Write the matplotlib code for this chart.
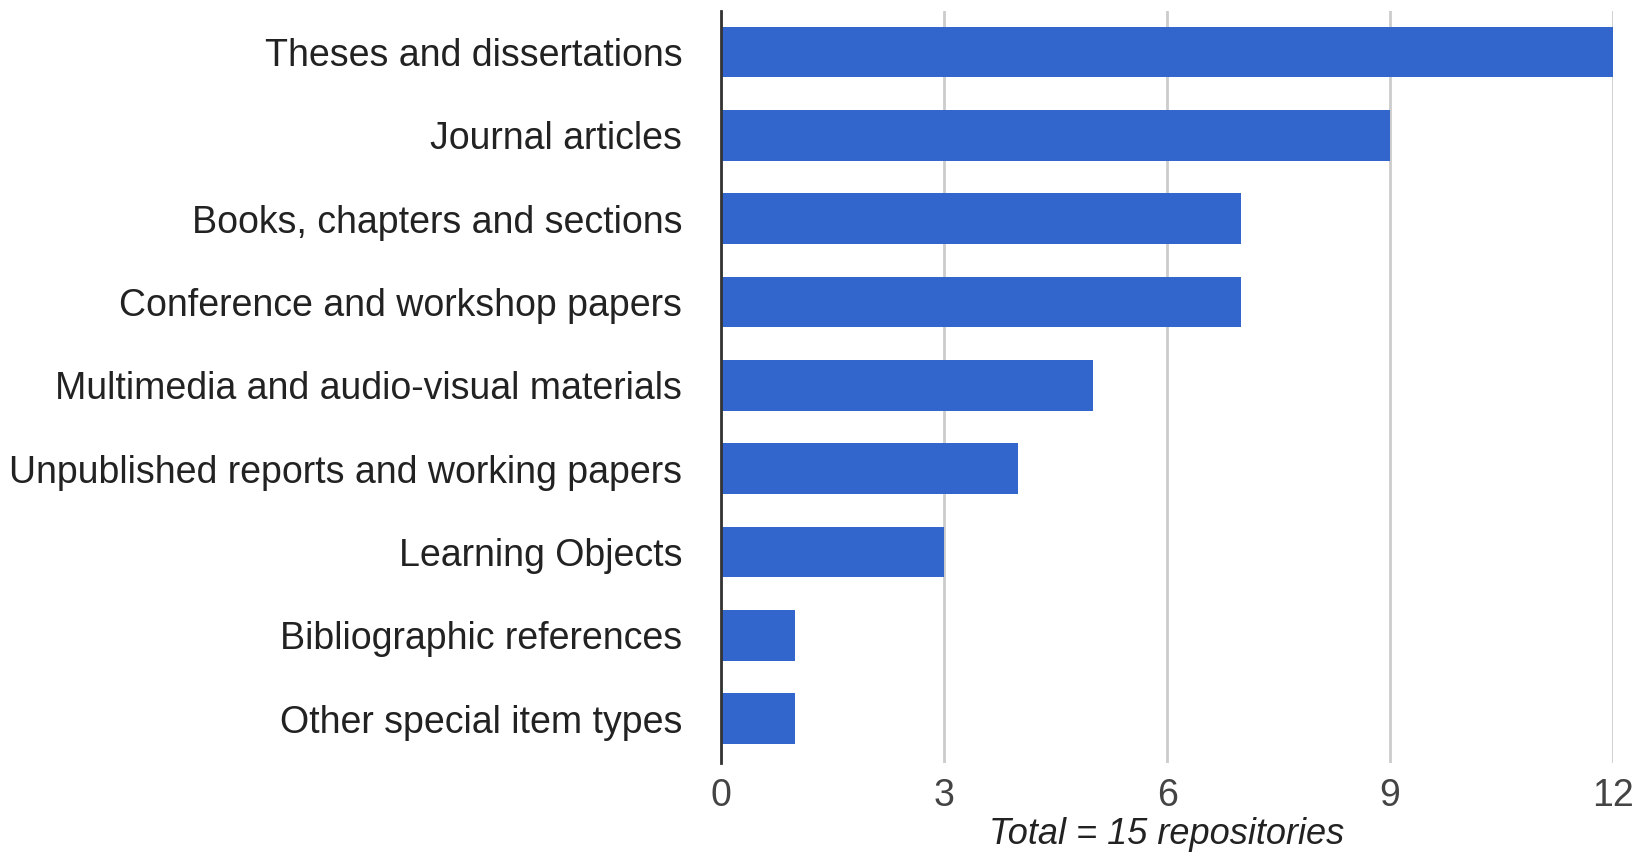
import matplotlib.pyplot as plt

plt.rcParams['font.family'] = ['Liberation Sans', 'DejaVu Sans']

# item types and number of repositories holding each
categories = [
    'Theses and dissertations',
    'Journal articles',
    'Books, chapters and sections',
    'Conference and workshop papers',
    'Multimedia and audio-visual materials',
    'Unpublished reports and working papers',
    'Learning Objects',
    'Bibliographic references',
    'Other special item types',
]
counts = [12, 9, 7, 7, 5, 4, 3, 1, 1]
ticks = [0, 3, 6, 9, 12]
xlabel = 'Total = 15 repositories'

fig = plt.figure(figsize=(16.41, 8.57), dpi=100)
ax = fig.add_axes([0.4394, 0.110, 0.5436, 0.877])

ypos = list(range(len(categories)))
ax.barh(ypos, counts, height=0.61, color='#3366cc', zorder=3)

ax.set_xlim(0, 12)
ax.set_ylim(8.53, -0.49)
ax.set_xticks(ticks)
ax.set_yticks(ypos)
ax.set_yticklabels(categories)
ax.tick_params(axis='y', length=0, pad=28, labelsize=27, labelcolor='#222222')
ax.tick_params(axis='x', length=0, pad=11, labelsize=27, labelcolor='#444444')
ax.grid(axis='x', color='#cccccc', linewidth=2, zorder=0)

for s in ['top', 'right', 'bottom']:
    ax.spines[s].set_visible(False)
ax.spines['left'].set_color('#333333')
ax.spines['left'].set_linewidth(2)
ax.spines['left'].set_zorder(4)

ax.set_xlabel(xlabel, fontsize=26, style='italic', color='#222222', labelpad=2)

fig.savefig('out.png', dpi=100)
